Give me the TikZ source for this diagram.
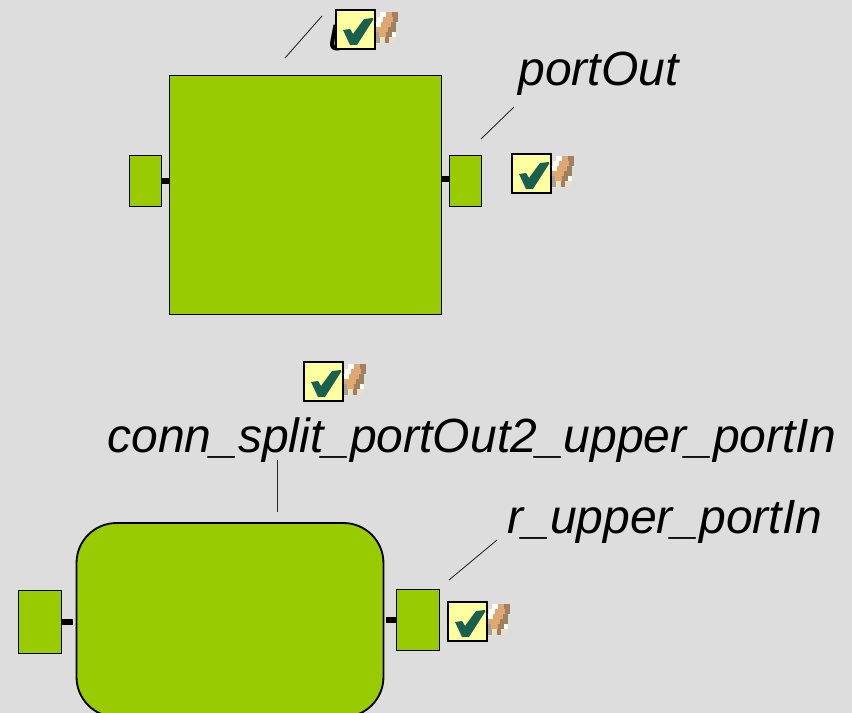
\documentclass[tikz,border=0pt]{standalone}
\usepackage{fontspec}
\setmainfont{Liberation Sans}
\definecolor{canvas}{HTML}{DDDDDD}
\definecolor{blockgreen}{HTML}{99CC00}
\definecolor{iconyellow}{HTML}{FFFFA0}
\definecolor{icongreen}{HTML}{1A6050}
\definecolor{pencillight}{HTML}{E0A870}
\definecolor{pencildark}{HTML}{A08060}
\definecolor{pencilpale}{HTML}{E8E0C0}
\definecolor{pencilgrey}{HTML}{A8A098}
\tikzset{
  blockbox/.style={draw=black,line width=1.05pt,fill=blockgreen,inner sep=0pt},
  portbox/.style={draw=black,line width=0.8pt,fill=blockgreen,inner sep=0pt},
  stub/.style={line width=3.4pt,black},
  leader/.style={line width=0.5pt,black!85},
  caption/.style={inner sep=0pt,anchor=base west,font=\fontsize{27.33pt}{30pt}\selectfont\itshape},
  pics/valid/.style={code={
    \foreach \xa/\xb/\ya/\yb/\shade in {
      44/50/2/7/white,50/56/2/7/pencillight,56/62/2/7/pencildark,
      41/47/7/12/white,47/57/7/12/pencillight,57/62/7/12/pencildark,
      39/45/12/17/white,45/55/12/17/pencillight,55/60/12/17/pencildark,
      36/40/17/22/white,40/52/17/22/pencillight,52/60/17/22/pencildark,
      36/40/22/27/white,40/43/22/27/pencilgrey,43/50/22/27/pencillight,50/56/22/27/pencildark,56/60/22/27/white,
      36/40/27/33/white,40/44/27/33/pencilgrey,44/49/27/33/pencilpale,49/53/27/33/pencildark,53/58/27/33/pencilpale}
      \fill [\shade] (\xa,\ya) rectangle (\xb,\yb);
    \draw [line width=1.2pt,black,fill=iconyellow] (0,0) rectangle (39,39);
    \fill [icongreen] (7,20) -- (14,19) -- (17,24) -- (28,9) -- (37,8) -- (37,10) -- (21,35) -- (14,35) -- cycle;
  }}
}
\begin{document}
\begin{tikzpicture}[x=0.02cm,y=-0.02cm]
\clip (0,0) rectangle (852,713);
\fill [canvas] (0,0) rectangle (852,713);
% upper block
\node [blockbox,minimum width=5.44cm,minimum height=4.78cm] (upperBlock) at (305.5,195) {};
\node [portbox,minimum width=0.64cm,minimum height=1.02cm] (upperIn) at (145.5,181) {};
\node [portbox,minimum width=0.64cm,minimum height=1.02cm] (upperOut) at (465.5,181) {};
\draw [stub] (upperIn.east) -- (upperIn.east -| upperBlock.west);
\draw [stub] ([yshift=0.04cm]upperOut.west) -- ([yshift=0.04cm]upperOut.west -| upperBlock.east);
% lower block
\node [blockbox,rounded corners=0.8cm,minimum width=6.14cm,minimum height=3.88cm] (lowerBlock) at (230,620) {};
\node [portbox,minimum width=0.86cm,minimum height=1.26cm] (lowerIn) at (40,622) {};
\node [portbox,minimum width=0.86cm,minimum height=1.22cm] (lowerOut) at (418,620) {};
\draw [stub,shorten >=0.06cm] (lowerIn.east) -- (lowerIn.east -| lowerBlock.west);
\draw [stub,shorten >=0.04cm] (lowerOut.west) -- (lowerOut.west -| lowerBlock.east);
% labels
\node [caption] (upperName) at (328,51) {u};
\node [caption] (portOutName) at (518,86) {portOut};
\node [caption] (connName) at (107,452) {conn\_split\_portOut2\_upper\_portIn};
\node [caption] (portInName) at (507,533) {r\_upper\_portIn};
% leaders
\coordinate (upperTip) at (322,16);
\coordinate (upperFoot) at (285,58);
\coordinate (portOutTip) at (514,107);
\coordinate (portOutFoot) at (481,139);
\coordinate (connTip) at (277,460);
\coordinate (connFoot) at (277,512);
\coordinate (portInTip) at (497,540);
\coordinate (portInFoot) at (449,580);
\draw [leader] (upperTip) -- (upperFoot);
\draw [leader] (portOutTip) -- (portOutFoot);
\draw [leader] (connTip) -- (connFoot);
\draw [leader] (portInTip) -- (portInFoot);
% markers
\pic at (336,10) {valid};
\pic at (512,154) {valid};
\pic at (304,362) {valid};
\pic at (448,602) {valid};
\end{tikzpicture}
\end{document}
